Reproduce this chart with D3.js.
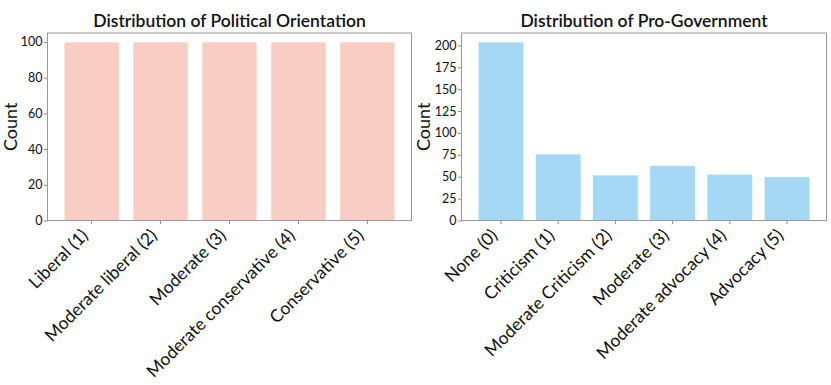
<!DOCTYPE html>
<html>
<head>
<meta charset="utf-8">
<script src="https://cdn.jsdelivr.net/npm/d3@7"></script>
<style>
  body { margin: 0; background: #fff; }
  svg text { font-family: Lato, "Noto Sans", sans-serif; fill: #111; }
  .title { font-size: 17.5px; font-weight: 600; }
  .ylab { font-size: 18px; }
  .tick text { font-size: 12.5px; }
  .xlab { font-size: 17.5px; }
</style>
</head>
<body>
<div id="chart"></div>
<script>
const polCategories = ["Liberal (1)", "Moderate liberal (2)", "Moderate (3)", "Moderate conservative (4)", "Conservative (5)"];
const polCounts = [100, 100, 100, 100, 100];
const polTicks = [0, 20, 40, 60, 80, 100];

const govCategories = ["None (0)", "Criticism (1)", "Moderate Criticism  (2)", "Moderate (3)", "Moderate advocacy (4)", "Advocacy (5)"];
const govCounts = [204, 76, 52, 63, 53, 50];
const govTicks = [0, 25, 50, 75, 100, 125, 150, 175, 200];

const width = 831, height = 385;

const svg = d3.select("#chart").append("svg")
  .attr("width", width)
  .attr("height", height);

function panel(opts) {
  const {x0, x1, y0, y1, cats, vals, ticks, color, title, ylabX} = opts;
  const n = cats.length;

  const xScale = d3.scaleBand()
    .domain(cats)
    .range([x0, x1])
    .paddingInner(0.2)
    .paddingOuter(0.05 * (n - 0.2));

  const yScale = d3.scaleLinear()
    .domain([0, d3.max(vals) * 1.05])
    .range([y1, y0]);

  const g = svg.append("g");

  // bars
  g.selectAll("rect.bar")
    .data(cats)
    .enter()
    .append("rect")
    .attr("class", "bar")
    .attr("x", d => xScale(d))
    .attr("width", xScale.bandwidth())
    .attr("y", (d, i) => yScale(vals[i]))
    .attr("height", (d, i) => y1 - yScale(vals[i]))
    .attr("fill", color)
    .attr("stroke", "#fff")
    .attr("stroke-width", 0.8);

  // y axis
  const yAxis = g.append("g")
    .attr("transform", "translate(" + x0 + ",0)")
    .call(d3.axisLeft(yScale).tickValues(ticks).tickSize(3.5).tickPadding(1.5));
  yAxis.select(".domain").remove();
  yAxis.selectAll(".tick line").attr("stroke", "#888");

  // x axis ticks
  const xAxis = g.append("g")
    .attr("transform", "translate(0," + y1 + ")")
    .call(d3.axisBottom(xScale).tickSize(3.5).tickFormat(""));
  xAxis.select(".domain").remove();
  xAxis.selectAll(".tick line").attr("stroke", "#888");

  // rotated x labels
  g.selectAll(".xlab")
    .data(cats)
    .enter()
    .append("text")
    .attr("class", "xlab")
    .attr("text-anchor", "end")
    .attr("transform", d => "translate(" + (xScale(d) + xScale.bandwidth() / 2 - 2.5) + "," + (y1 + 16) + ") rotate(-45)")
    .text(d => d);

  // frame
  g.append("rect")
    .attr("x", x0)
    .attr("y", y0)
    .attr("width", x1 - x0)
    .attr("height", y1 - y0)
    .attr("fill", "none")
    .attr("stroke", "#999")
    .attr("stroke-width", 1);

  g.append("text")
    .attr("class", "title")
    .attr("x", (x0 + x1) / 2)
    .attr("y", y0 - 6)
    .attr("text-anchor", "middle")
    .text(title);

  g.append("text")
    .attr("class", "ylab")
    .attr("transform", "translate(" + ylabX + "," + ((y0 + y1) / 2) + ") rotate(-90)")
    .attr("text-anchor", "middle")
    .text("Count");
}

panel({
  x0: 47.5, x1: 411.5, y0: 33, y1: 220.5,
  cats: polCategories, vals: polCounts, ticks: polTicks,
  color: "#f8cdc3", title: "Distribution of Political Orientation", ylabX: 17
});

panel({
  x0: 461.5, x1: 826.5, y0: 33, y1: 220.5,
  cats: govCategories, vals: govCounts, ticks: govTicks,
  color: "#a4d8f4", title: "Distribution of Pro-Government", ylabX: 430
});
</script>
</body>
</html>
